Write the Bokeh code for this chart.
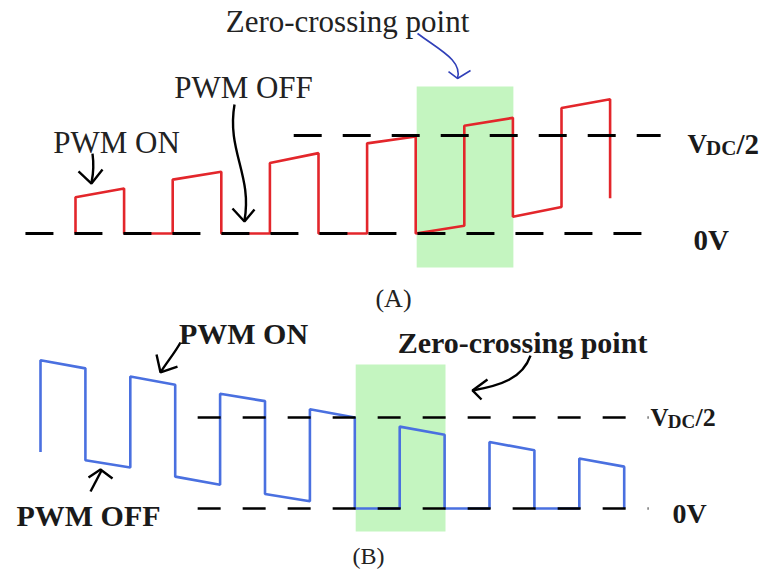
from bokeh.plotting import figure
from bokeh.models import Range1d
from bokeh.core.properties import value
from bokeh.embed import file_html
from bokeh.resources import INLINE

# ---------------- data ----------------
# time in half PWM periods, voltage in units of V_DC/2
# (A) red waveform
a_t = [0, 0, 1, 1, 2, 2, 3, 3, 4, 4, 5, 5, 6, 6, 7, 7, 8, 8, 9, 9, 10, 10, 11, 11]
a_v = [0, 0.37, 0.46, 0, 0, 0.55, 0.63, 0, 0, 0.72, 0.82, 0, 0, 0.92, 0.99, 0,
       0.08, 1.10, 1.18, 0.17, 0.27, 1.28, 1.37, 0.36]
# (B) blue waveform
b_t = [0, 0, 1, 1, 2, 2, 3, 3, 4, 4, 5, 5, 6, 6, 7, 7, 8, 8, 9, 9, 10, 10, 11, 11, 12, 12, 13, 13]
b_v = [0.62, 1.63, 1.54, 0.53, 0.45, 1.45, 1.36, 0.35, 0.26, 1.26, 1.18, 0.16, 0.08, 1.09,
       1.00, 0, 0, 0.90, 0.81, 0, 0, 0.73, 0.64, 0, 0, 0.55, 0.46, 0]
# reference levels
levels = [0, 1]                      # 0V, V_DC/2
a_ref_start = [-1.03, 4.49]          # where each dashed level starts in (A)
a_ref_end = [12.04, 12.04]
b_ref_start = [3.50, 3.50]
b_ref_end = [13.54, 13.54]
# zero-crossing windows (t_start, t_end)
a_zc = [7.02, 9.01]
b_zc = [7.02, 9.02]

# ---------------- figure ----------------
p = figure(width=773, height=576, x_range=Range1d(-1.5432, 14.362),
           y_range=Range1d(-3.5, 2.3776), output_backend="svg",
           toolbar_location=None, min_border=0, x_axis_type=None, y_axis_type=None)
p.grid.visible = False
p.outline_line_color = None
p.background_fill_color = "white"
p.extra_x_ranges = {"tb": Range1d(-0.8909, 16.325)}
p.extra_y_ranges = {"vb": Range1d(-0.7473, 5.5824)}
B = dict(x_range_name="tb", y_range_name="vb")

serif = value("Liberation Serif")
GREEN = "#c4f5c0"
RED = "#e3262b"
BLUE = "#4a70e0"
INK = "#1a1a1a"

# green windows
p.quad(left=[a_zc[0]], right=[a_zc[1]], bottom=[-0.347], top=[1.5],
       fill_color=GREEN, line_color=None)
p.quad(left=[b_zc[0]], right=[b_zc[1]], bottom=[-0.253], top=[1.582],
       fill_color=GREEN, line_color=None, **B)

# waveforms
p.line(a_t, a_v, line_color=RED, line_width=2.6)
p.line(b_t, b_v, line_color=BLUE, line_width=2.6, **B)

# dashed reference levels
for s, e, lv in zip(a_ref_start, a_ref_end, levels):
    p.line([s, e], [lv, lv], line_color="black", line_width=3, line_dash="28 21")
for s, e, lv in zip(b_ref_start, b_ref_end, levels):
    p.line([s, e], [lv, lv], line_color="black", line_width=2.6, line_dash="23 22", **B)

# ---------------- annotations (A) ----------------
p.bezier(x0=[7.037], y0=[2.041], x1=[7.86], y1=[1.582],
         cx0=[7.51], cy0=[1.867], cx1=[7.963], cy1=[1.765],
         line_color="#3140b8", line_width=1.6)
p.line([7.675, 7.86, 8.128], [1.653, 1.582, 1.663], line_color="#3140b8", line_width=1.6)

p.bezier(x0=[3.272], y0=[1.316], x1=[3.477], y1=[0.133],
         cx0=[3.107], cy0=[0.847], cx1=[3.642], cy1=[0.592],
         line_color="black", line_width=2.4)
p.line([3.23, 3.477, 3.683], [0.255, 0.122, 0.245], line_color="black", line_width=2.4)

p.bezier(x0=[0.35], y0=[0.816], x1=[0.329], y1=[0.52],
         cx0=[0.391], cy0=[0.663], cx1=[0.36], cy1=[0.6],
         line_color="black", line_width=2.4)
p.line([0.062, 0.329, 0.556], [0.633, 0.51, 0.653], line_color="black", line_width=2.4)

p.text(x=[5.597, 3.457, 0.844], y=[2.163, 1.49, 0.929],
       text=["Zero-crossing point", "PWM OFF", "PWM ON"],
       text_font=serif, text_font_size="31px", text_align="center",
       text_baseline="alphabetic", text_color="#222222")
p.text(x=[6.543], y=[-0.663], text=["(A)"], text_font=serif, text_font_size="26px",
       text_align="center", text_baseline="alphabetic", text_color="#222222")
p.text(x=[12.593], y=[0.918], text=["V"], text_font=serif, text_font_size="27px",
       text_font_style="bold", text_align="left", text_baseline="alphabetic", text_color=INK)
p.text(x=[12.975], y=[0.87], text=["DC"], text_font=serif, text_font_size="21px",
       text_font_style="bold", text_align="left", text_baseline="alphabetic", text_color=INK)
p.text(x=[13.60], y=[0.918], text=["/2"], text_font=serif, text_font_size="29px",
       text_font_style="bold", text_align="left", text_baseline="alphabetic", text_color=INK)
p.text(x=[12.716], y=[-0.071], text=["0V"], text_font=serif, text_font_size="29px",
       text_font_style="bold", text_align="left", text_baseline="alphabetic", text_color=INK)

# ---------------- annotations (B) ----------------
p.bezier(x0=[3.118], y0=[1.824], x1=[2.673], y1=[1.495],
         cx0=[2.98], cy0=[1.7], cx1=[2.8], cy1=[1.6],
         line_color="black", line_width=2.4, **B)
p.line([2.584, 2.673, 3.051], [1.692, 1.495, 1.56], line_color="black", line_width=2.4, **B)

p.bezier(x0=[10.913], y0=[1.681], x1=[9.621], y1=[1.297],
         cx0=[10.735], cy0=[1.429], cx1=[10.245], cy1=[1.352],
         line_color="black", line_width=2.4, **B)
p.line([9.955, 9.621, 9.822], [1.418, 1.297, 1.198], line_color="black", line_width=2.4, **B)

p.line([1.114, 1.359], [0.187, 0.418], line_color="black", line_width=2.4, **B)
p.line([1.069, 1.336, 1.604], [0.341, 0.429, 0.33], line_color="black", line_width=2.4, **B)

p.text(x=[4.521, 10.735, 1.069], y=[1.923, 1.824, -0.077],
       text=["PWM ON", "Zero-crossing point", "PWM OFF"],
       text_font=serif, text_font_size="30px", text_font_style="bold",
       text_align="center", text_baseline="alphabetic", text_color=INK, **B)
p.text(x=[7.305], y=[-0.52], text=["(B)"], text_font=serif, text_font_size="24px",
       text_align="center", text_baseline="alphabetic", text_color="#222222", **B)
p.text(x=[13.586], y=[1.0], text=["V"], text_font=serif, text_font_size="25px",
       text_font_style="bold", text_align="left", text_baseline="alphabetic", text_color=INK, **B)
p.text(x=[13.97], y=[0.955], text=["DC"], text_font=serif, text_font_size="19px",
       text_font_style="bold", text_align="left", text_baseline="alphabetic", text_color=INK, **B)
p.text(x=[14.59], y=[1.0], text=["/2"], text_font=serif, text_font_size="26px",
       text_font_style="bold", text_align="left", text_baseline="alphabetic", text_color=INK, **B)
p.text(x=[14.076], y=[-0.055], text=["0V"], text_font=serif, text_font_size="28px",
       text_font_style="bold", text_align="left", text_baseline="alphabetic", text_color=INK, **B)

open("out.html", "w").write(file_html(p, INLINE))
